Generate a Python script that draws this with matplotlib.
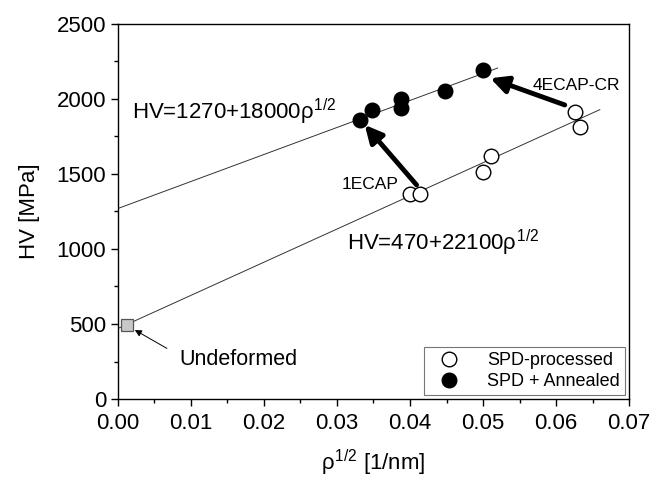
import matplotlib
matplotlib.use('Agg')
import matplotlib.pyplot as plt
import numpy as np

plt.rcParams['font.family'] = ['Liberation Sans', 'DejaVu Sans']
plt.rcParams['mathtext.fontset'] = 'custom'
plt.rcParams['mathtext.rm'] = 'Liberation Sans'
plt.rcParams['mathtext.it'] = 'Liberation Sans'

# SPD-processed (open circles)
spd_x = [0.0400, 0.0414, 0.0500, 0.0511, 0.0626, 0.0633]
spd_y = [1367, 1367, 1515, 1620, 1913, 1811]

# SPD + annealed (filled circles)
ann_x = [0.0331, 0.0348, 0.0388, 0.0388, 0.0448, 0.0500]
ann_y = [1860, 1927, 1998, 1938, 2056, 2193]

# undeformed reference
und_x = [0.0012]
und_y = [490]

# fits: HV = a + b*rho^1/2
fit_ann = (1270, 18000)
fit_spd = (470, 22100)
fit_ann_xmax = 0.052
fit_spd_xmax = 0.066

fig = plt.figure(figsize=(6.54, 4.79), dpi=100)
ax = fig.add_axes([0.1804, 0.167, 0.7814, 0.783])

xx = np.array([0.0, fit_ann_xmax])
ax.plot(xx, fit_ann[0] + fit_ann[1]*xx, color='#333333', lw=0.7, zorder=1)
xx = np.array([0.0, fit_spd_xmax])
ax.plot(xx, fit_spd[0] + fit_spd[1]*xx, color='#333333', lw=0.7, zorder=1)

ax.plot(spd_x, spd_y, 'o', ms=10.5, mfc='white', mec='black', mew=1.0,
        ls='none', label='SPD-processed', zorder=3)
ax.plot(ann_x, ann_y, 'o', ms=10.5, mfc='black', mec='black',
        ls='none', label='SPD + Annealed', zorder=3)
ax.plot(und_x, und_y, 's', ms=9, mfc='#c8c8c8', mec='#555555', mew=0.9,
        ls='none', zorder=3)

# thick arrows
big = dict(arrowstyle='-|>', lw=3.5, color='black', mutation_scale=26,
           shrinkA=0, shrinkB=0)
ax.annotate('', xy=(0.0338, 1827), xytext=(0.0409, 1427), arrowprops=big, zorder=4)
ax.annotate('', xy=(0.0510, 2138), xytext=(0.0612, 1960), arrowprops=big, zorder=4)

ax.text(0.0384, 1427, '1ECAP', fontsize=12.5, ha='right', va='center')
ax.text(0.0568, 2090, '4ECAP-CR', fontsize=12.5, ha='left', va='center')

ax.annotate('Undeformed', xy=(0.0023, 460), xytext=(0.0084, 262),
            fontsize=15.5, ha='left', va='center',
            arrowprops=dict(arrowstyle='-|>', lw=0.7, color='black',
                            mutation_scale=10, shrinkA=8, shrinkB=0,
                            relpos=(0, 0.7)))

ax.text(0.0019, 1915, r'HV=1270+18000$\rho^{1/2}$', fontsize=16,
        ha='left', va='center')
ax.text(0.0314, 1040, r'HV=470+22100$\rho^{1/2}$', fontsize=16,
        ha='left', va='center')

ax.set_xlim(0, 0.07)
ax.set_ylim(0, 2500)
ax.set_xticks(np.arange(0, 0.0701, 0.01))
ax.set_xticks(np.arange(0.005, 0.07, 0.01), minor=True)
ax.set_yticks(np.arange(0, 2501, 500))
ax.set_yticks(np.arange(250, 2500, 500), minor=True)
ax.set_xticklabels(['%.2f' % v for v in np.arange(0, 0.0701, 0.01)])
ax.tick_params(which='major', direction='out', length=5, width=1.0,
               labelsize=16, top=False, right=False)
ax.tick_params(axis='x', which='major', pad=5)
ax.tick_params(which='minor', direction='out', length=3, width=1.0,
               top=False, right=False)
for s in ax.spines.values():
    s.set_linewidth(1.0)

ax.set_xlabel(r'$\rho^{1/2}$ [1/nm]', fontsize=16, labelpad=10)
ax.set_ylabel('HV [MPa]', fontsize=16, labelpad=12)

leg = ax.legend(loc='lower right', fontsize=13, frameon=True, fancybox=False,
                edgecolor='#555555', borderaxespad=0.2, handletextpad=1.0,
                borderpad=0.3, labelspacing=0.2, handlelength=2.2)
leg.get_frame().set_linewidth(0.8)

fig.savefig('out.png', dpi=100)
